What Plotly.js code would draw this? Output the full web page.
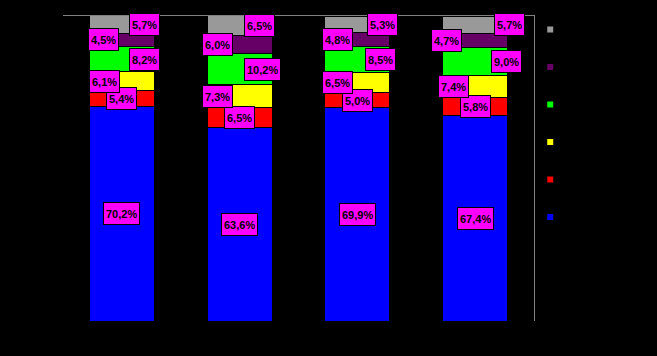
<!DOCTYPE html>
<html>
<head>
<meta charset="utf-8">
<script src="https://cdn.plot.ly/plotly-3.0.1.min.js"></script>
<style>html,body{margin:0;padding:0;background:#000;}#chart{width:657px;height:356px;}</style>
</head>
<body>
<div id="chart"></div>
<script>
// categories (no visible labels in the reference)
var categories = ['A', 'B', 'C', 'D'];
// series values (%), bottom to top
var blueVals   = [70.2, 63.6, 69.9, 67.4];
var redVals    = [5.4, 6.5, 5.0, 5.8];
var yellowVals = [6.1, 7.3, 6.5, 7.4];
var greenVals  = [8.2, 10.2, 8.5, 9.0];
var purpleVals = [4.5, 6.0, 4.8, 4.7];
var grayVals   = [5.7, 6.5, 5.3, 5.7];

var series = [
  {vals: blueVals,   color: '#0000FF', shift: [0, 0, 0, 0]},
  {vals: redVals,    color: '#FF0000', shift: [0, 0, 0, 0]},
  {vals: yellowVals, color: '#FFFF00', shift: [-17, -22, -20, -22]},
  {vals: greenVals,  color: '#00FF00', shift: [23, 23, 23, 31]},
  {vals: purpleVals, color: '#660066', shift: [-18, -22, -20, -29]},
  {vals: grayVals,   color: '#999999', shift: [23, 20, 25, 34]}
];

var traces = [];
var annotations = [];
var base = categories.map(function(){ return 0; });
series.forEach(function(s){
  traces.push({
    type: 'bar', x: categories, y: s.vals,
    marker: {color: s.color, line: {color: '#000', width: 1}},
    showlegend: false, hoverinfo: 'none'
  });
  s.vals.forEach(function(v, i){
    annotations.push({
      x: categories[i], y: base[i] + v / 2, xref: 'x', yref: 'y',
      text: v.toFixed(1).replace('.', ',') + '%',
      showarrow: false, xshift: s.shift[i],
      bgcolor: '#FF00FF', bordercolor: '#000000', borderwidth: 1, borderpad: 2,
      height: 17,
      font: {family: 'Arial, Liberation Sans, sans-serif', size: 11, color: '#000', weight: 'bold'}
    });
    base[i] += v;
  });
});

// legend swatches (top to bottom)
series.slice().reverse().forEach(function(s, k){
  traces.push({
    type: 'scatter', mode: 'markers', x: [categories[0]], y: [null], name: '',
    legendgroup: 'g' + k,
    marker: {symbol: 'square', size: 6, color: s.color},
    showlegend: true, hoverinfo: 'none'
  });
});

var layout = {
  width: 657, height: 356,
  paper_bgcolor: '#000', plot_bgcolor: '#000',
  margin: {l: 63, r: 123, t: 16, b: 35},
  barmode: 'stack', bargap: 0.45,
  xaxis: {type: 'category', side: 'top', showline: true, linecolor: '#808080', linewidth: 1,
          showticklabels: false, ticks: '', showgrid: false, zeroline: false, fixedrange: true},
  yaxis: {range: [0, 100], side: 'right', showline: true, linecolor: '#808080', linewidth: 1,
          showticklabels: false, ticks: '', showgrid: false, zeroline: false, fixedrange: true},
  showlegend: true,
  legend: {x: 0.992, xanchor: 'left', y: 1.003, yanchor: 'top', bgcolor: 'rgba(0,0,0,0)',
           font: {size: 10, color: '#000'}, traceorder: 'grouped', tracegroupgap: 18.5,
           itemwidth: 30, maxheight: 340},
  annotations: annotations
};

Plotly.newPlot('chart', traces, layout, {staticPlot: true, displayModeBar: false});
</script>
</body>
</html>
